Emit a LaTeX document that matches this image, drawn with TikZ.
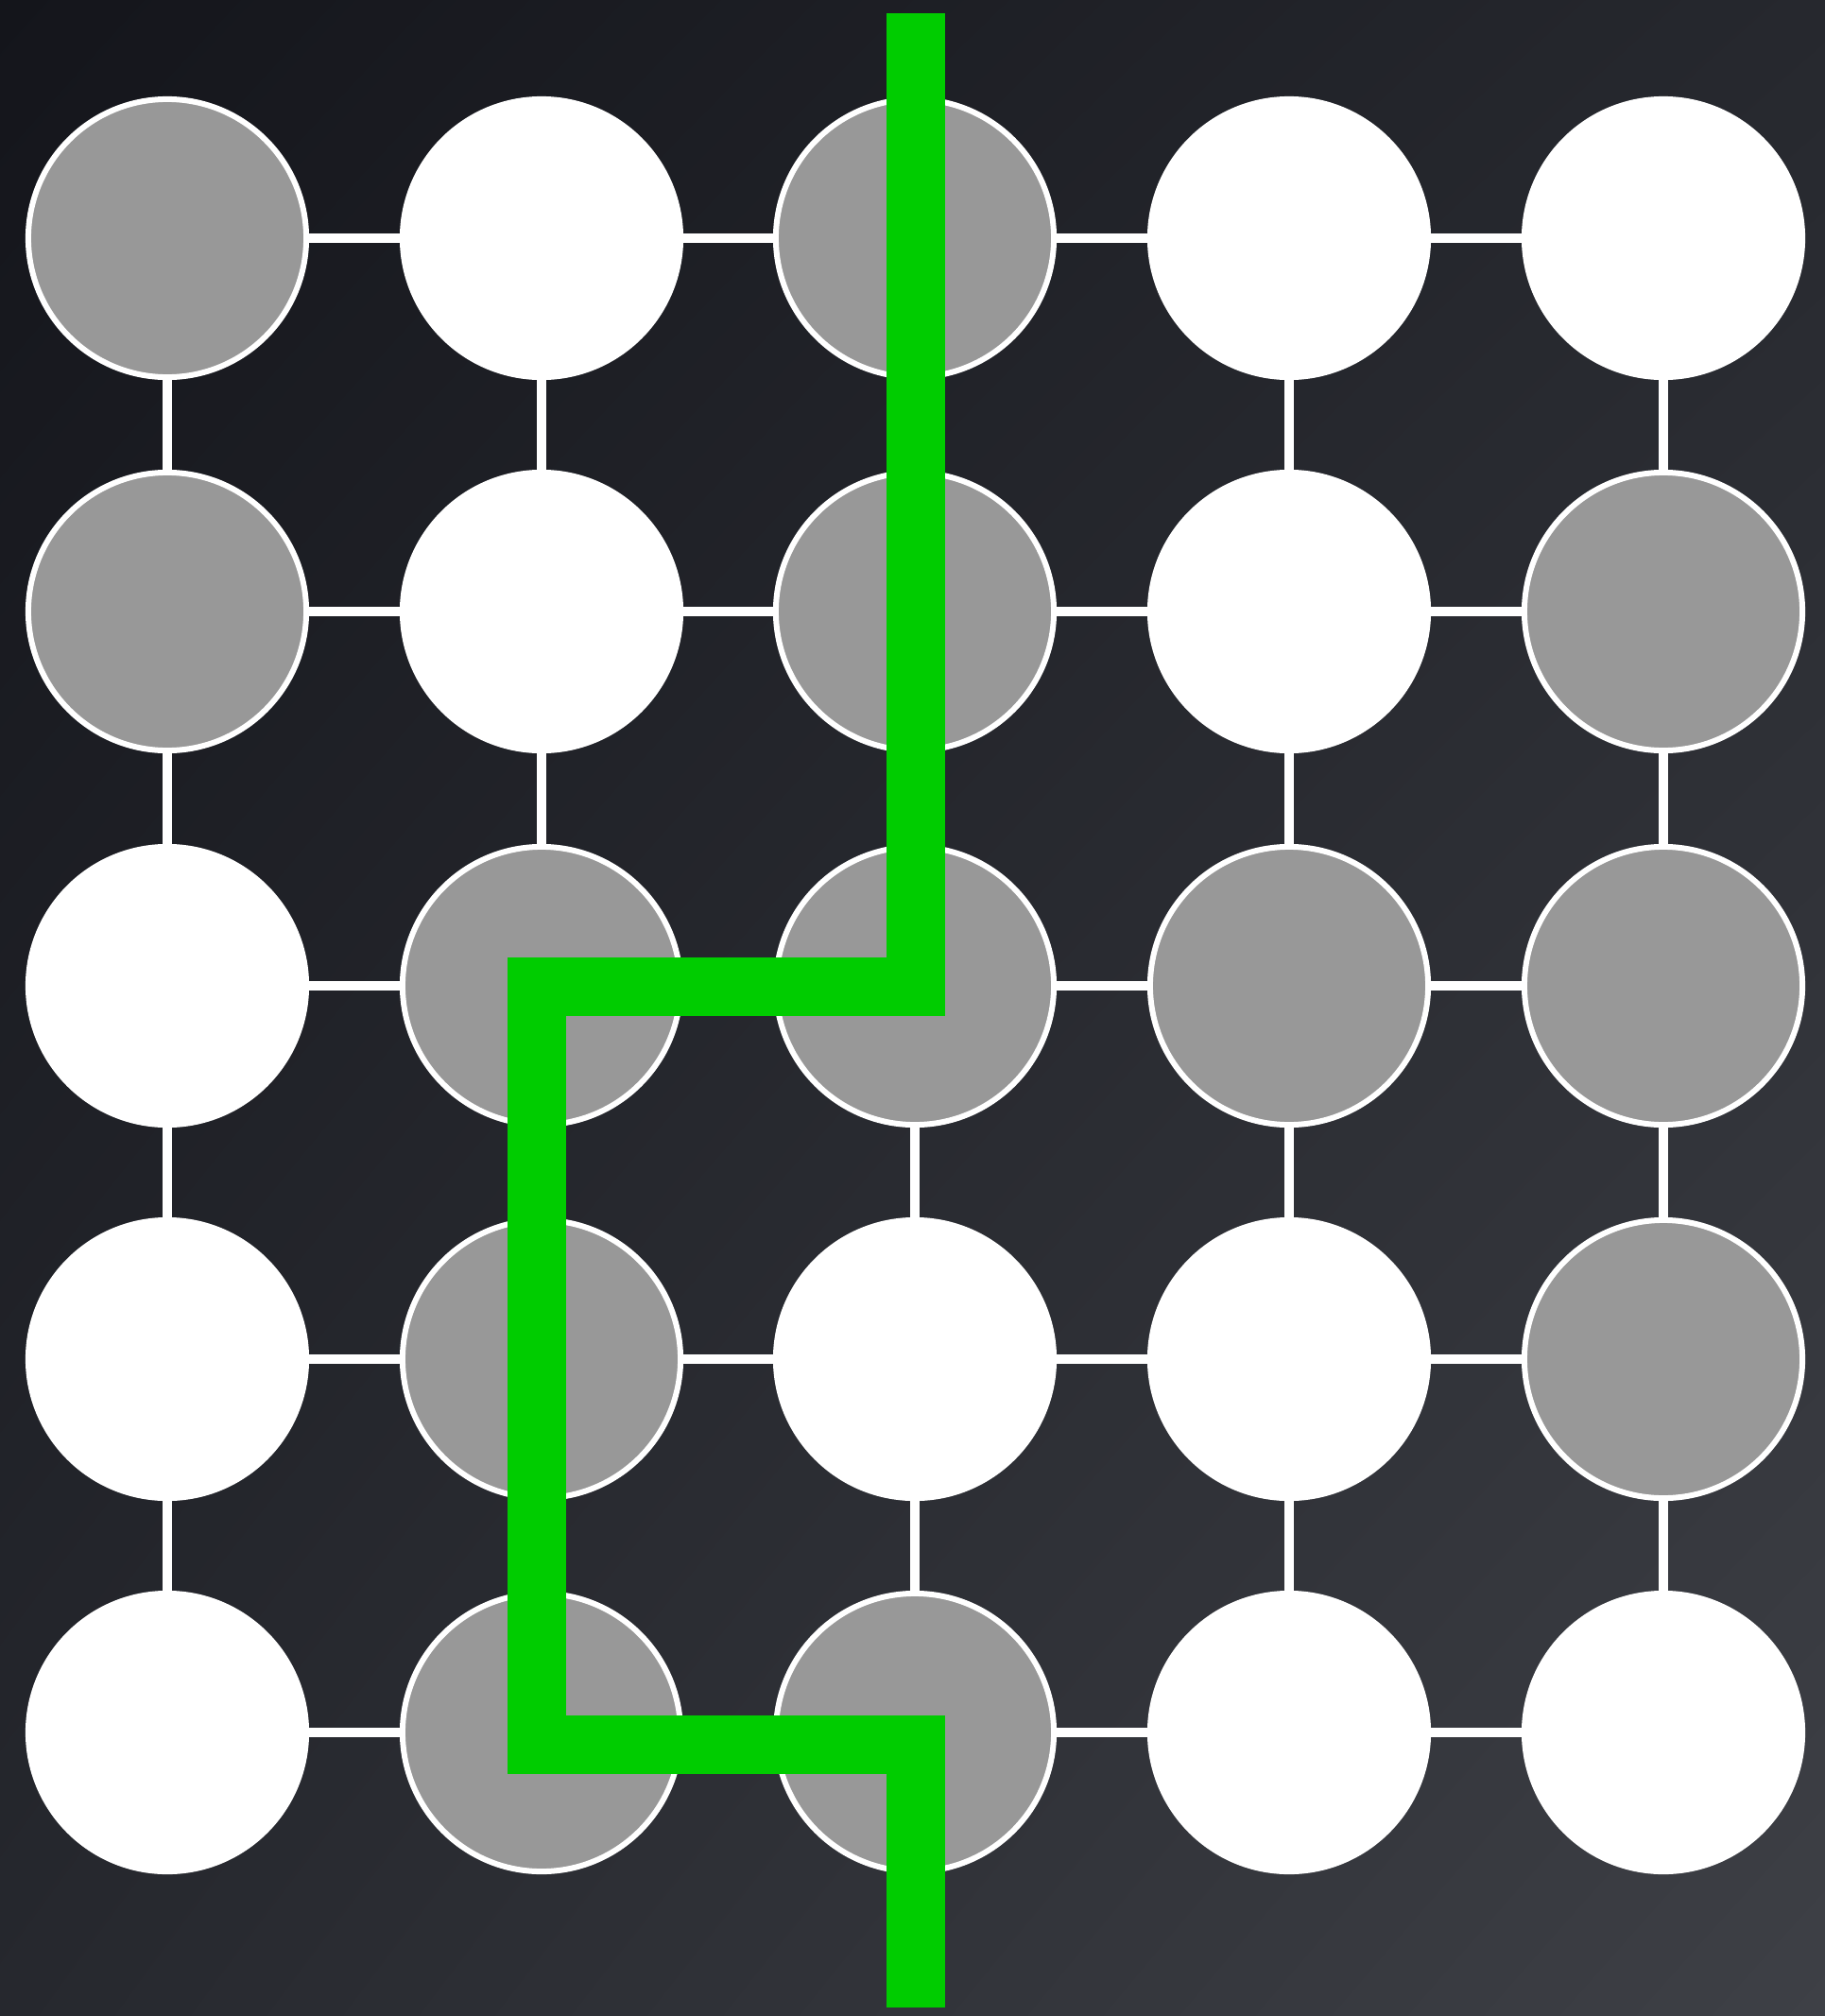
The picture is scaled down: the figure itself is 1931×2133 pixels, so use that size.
\documentclass[tikz,border=0pt]{standalone}
\usepackage{graphicx, amsmath, amssymb, tikz}
\usetikzlibrary{shadings}

\definecolor{bgdark}{RGB}{20,21,27}
\definecolor{bgmid}{RGB}{38,40,46}
\definecolor{bglight}{RGB}{62,64,70}
\definecolor{stonegray}{RGB}{152,152,152}
\definecolor{routegreen}{RGB}{0,204,0}

\begin{document}
\begin{tikzpicture}[x=0.01cm, y=-0.01cm,
    graystone/.style={circle, draw=white, line width=0.06cm, fill=stonegray, minimum size=2.94cm, inner sep=0pt},
    whitestone/.style={circle, draw=white, line width=0.06cm, fill=white, minimum size=2.94cm, inner sep=0pt},
    link/.style={white, line width=0.1cm},
    route/.style={routegreen, line width=0.62cm, line join=miter}]

    % Background
    \useasboundingbox (0,0) rectangle (1931,2133);
    \begin{scope}
        \clip (0,0) rectangle (1931,2133);
        \shade[upper left=bgdark, upper right=bgmid, lower left=bgmid, lower right=bglight]
            (0,0) rectangle (1931,2133);
    \end{scope}

    % Draw nodes
    \node[graystone]  (a1) at (177,252) {};
    \node[whitestone] (a2) at (573,252) {};
    \node[graystone]  (a3) at (968,252) {};
    \node[whitestone] (a4) at (1364,252) {};
    \node[whitestone] (a5) at (1760,252) {};

    \node[graystone]  (b1) at (177,647) {};
    \node[whitestone] (b2) at (573,647) {};
    \node[graystone]  (b3) at (968,647) {};
    \node[whitestone] (b4) at (1364,647) {};
    \node[graystone]  (b5) at (1760,647) {};

    \node[whitestone] (c1) at (177,1043) {};
    \node[graystone]  (c2) at (573,1043) {};
    \node[graystone]  (c3) at (968,1043) {};
    \node[graystone]  (c4) at (1364,1043) {};
    \node[graystone]  (c5) at (1760,1043) {};

    \node[whitestone] (d1) at (177,1438) {};
    \node[graystone]  (d2) at (573,1438) {};
    \node[whitestone] (d3) at (968,1438) {};
    \node[whitestone] (d4) at (1364,1438) {};
    \node[graystone]  (d5) at (1760,1438) {};

    \node[whitestone] (e1) at (177,1833) {};
    \node[graystone]  (e2) at (573,1833) {};
    \node[graystone]  (e3) at (968,1833) {};
    \node[whitestone] (e4) at (1364,1833) {};
    \node[whitestone] (e5) at (1760,1833) {};

    % Draw connections
    \draw[link] (a1) -- (a2) (a2) -- (a3) (a3) -- (a4) (a4) -- (a5);
    \draw[link] (b1) -- (b2) (b2) -- (b3) (b3) -- (b4) (b4) -- (b5);
    \draw[link] (c1) -- (c2) (c2) -- (c3) (c3) -- (c4) (c4) -- (c5);
    \draw[link] (d1) -- (d2) (d2) -- (d3) (d3) -- (d4) (d4) -- (d5);
    \draw[link] (e1) -- (e2) (e2) -- (e3) (e3) -- (e4) (e4) -- (e5);
    \draw[link] (a1) -- (b1) (b1) -- (c1) (c1) -- (d1) (d1) -- (e1);
    \draw[link] (a2) -- (b2) (b2) -- (c2) (c2) -- (d2) (d2) -- (e2);
    \draw[link] (a3) -- (b3) (b3) -- (c3) (c3) -- (d3) (d3) -- (e3);
    \draw[link] (a4) -- (b4) (b4) -- (c4) (c4) -- (d4) (d4) -- (e4);
    \draw[link] (a5) -- (b5) (b5) -- (c5) (c5) -- (d5) (d5) -- (e5);

    % Green route
    \coordinate (start) at (969,14);
    \coordinate (finish) at (969,2124);
    \draw[route] (start) -- (969,1044) -- (568,1044) -- (568,1846) -- (969,1846) -- (finish);
\end{tikzpicture}
\end{document}
